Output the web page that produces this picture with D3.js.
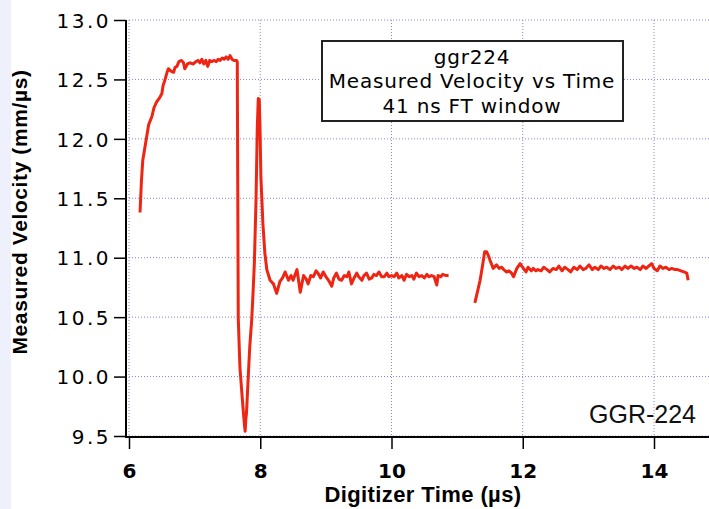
<!DOCTYPE html>
<html><head><meta charset="utf-8">
<script src="https://cdn.jsdelivr.net/npm/d3@7"></script>
<style>
html,body{margin:0;padding:0;background:#fff;}
svg{display:block;}
</style></head>
<body>
<svg id="chart" width="709" height="509"></svg>
<script>
// ---- data ----
const timeA = [6.168,6.19,6.21,6.27,6.30,6.35,6.38,6.42,6.46,6.50,6.52,6.55,6.58,6.60,6.64,6.68,6.70,6.73,6.76,6.80,6.83,6.85,6.89,6.93,6.98,7.02,7.05,7.08,7.11,7.14,7.17,7.20,7.23,7.26,7.30,7.33,7.36,7.39,7.42,7.45,7.48,7.51,7.54,7.57,7.60,7.64,7.65,
 7.665,7.69,7.72,7.74,7.76,7.77,7.78,7.79,7.82,7.84,7.87,7.89,7.91,7.935,7.955,7.97,7.985,7.996,8.01,8.04,8.07,8.10,8.15,8.20,8.25,8.30,8.34,8.38,8.43,8.47,8.50,8.56,8.61,8.66,8.70,8.73,8.77,8.81,8.85,8.88,8.92,8.96,9.00,9.04,9.09,9.12,9.16,9.20,9.24,9.28,9.32,9.35,9.39,9.43,9.47,9.50,9.55,9.58,9.62,9.66,9.70,9.73,9.77,9.81,9.85,9.89,9.93,9.96,10.00,10.04,10.08,10.11,10.16,10.19,10.23,10.27,10.31,10.34,10.38,10.42,10.46,10.50,10.54,10.57,10.61,10.65,10.69,10.71,10.75,10.78,10.83,10.87];
const velA = [11.38,11.65,11.82,12.02,12.12,12.19,12.26,12.31,12.34,12.38,12.45,12.50,12.56,12.59,12.57,12.56,12.60,12.61,12.65,12.66,12.64,12.59,12.63,12.64,12.63,12.65,12.66,12.64,12.67,12.63,12.66,12.61,12.66,12.65,12.66,12.65,12.67,12.66,12.68,12.67,12.69,12.67,12.70,12.67,12.66,12.66,12.65,
 10.49,10.08,9.86,9.72,9.59,9.54,9.64,9.69,10.03,10.25,10.48,10.70,10.95,11.47,12.10,12.34,12.33,12.10,11.68,11.29,11.04,10.90,10.81,10.78,10.70,10.80,10.83,10.88,10.81,10.85,10.81,10.90,10.71,10.85,10.82,10.78,10.85,10.84,10.89,10.87,10.83,10.88,10.84,10.81,10.76,10.83,10.87,10.82,10.81,10.85,10.84,10.88,10.78,10.83,10.87,10.84,10.81,10.85,10.87,10.82,10.83,10.86,10.85,10.88,10.84,10.84,10.87,10.84,10.85,10.84,10.87,10.83,10.85,10.81,10.86,10.84,10.85,10.82,10.87,10.84,10.85,10.83,10.86,10.84,10.85,10.84,10.77,10.85,10.84,10.86,10.85,10.85];
const timeB = [11.27,11.30,11.35,11.38,11.42,11.45,11.475,11.50,11.55,11.60,11.64,11.68,11.71,11.755,11.79,11.83,11.86,11.91,11.96,12.01,12.05,12.08,12.13,12.16,12.20,12.23,12.28,12.32,12.37,12.41,12.46,12.51,12.55,12.60,12.64,12.69,12.73,12.78,12.83,12.87,12.92,12.96,13.01,13.06,13.10,13.15,13.19,13.24,13.28,13.33,13.38,13.42,13.47,13.51,13.56,13.60,13.65,13.70,13.74,13.79,13.83,13.88,13.92,13.965,14.00,14.05,14.09,14.14,14.18,14.23,14.27,14.32,14.36,14.41,14.455,14.50,14.52];
const velB = [10.62,10.69,10.81,10.91,11.05,11.05,11.02,10.98,10.91,10.94,10.91,10.92,10.90,10.88,10.89,10.87,10.84,10.91,10.95,10.91,10.88,10.92,10.89,10.91,10.89,10.90,10.89,10.92,10.90,10.88,10.91,10.90,10.93,10.89,10.92,10.90,10.88,10.92,10.90,10.93,10.90,10.91,10.94,10.90,10.92,10.90,10.93,10.91,10.92,10.90,10.93,10.91,10.92,10.90,10.93,10.91,10.93,10.91,10.92,10.90,10.93,10.91,10.93,10.95,10.91,10.89,10.93,10.91,10.92,10.90,10.91,10.90,10.90,10.89,10.88,10.87,10.81];
const xTicks = [6, 8, 10, 12, 14];
const yTicks = [9.5, 10.0, 10.5, 11.0, 11.5, 12.0, 12.5, 13.0];
const legendLines = ["ggr224", "Measured Velocity vs Time", "41 ns FT window"];
const xTitle = "Digitizer Time (\u00b5s)";
const yTitle = "Measured Velocity (mm/\u00b5s)";
const tagText = "GGR-224";

// ---- drawing ----
const svg = d3.select("#chart");
const W = 709, H = 509;
const x = d3.scaleLinear().domain([6, 14]).range([129, 654]);
const y = d3.scaleLinear().domain([9.5, 13]).range([436, 20]);
const xMaxPx = W;

// left tinted strip
svg.append("rect").attr("x", 0).attr("y", 0).attr("width", 11).attr("height", H).attr("fill", "#eef1fb");

const grid = svg.append("g").attr("stroke", "#8a82d4").attr("stroke-width", 1).attr("stroke-dasharray", "1,2");
xTicks.forEach(t => {
  grid.append("line").attr("x1", x(t)).attr("x2", x(t)).attr("y1", 20).attr("y2", 436);
});
yTicks.forEach(v => {
  grid.append("line").attr("x1", 129).attr("x2", xMaxPx).attr("y1", y(v)).attr("y2", y(v));
});

// axes
const yAxis = d3.axisLeft(y).tickValues(yTicks).tickSize(12).tickPadding(6).tickFormat(d3.format(".1f"));
const gy = svg.append("g").attr("transform", "translate(126,0)").call(yAxis);
gy.select(".domain").attr("d", `M0,${y(13)}V437`).attr("stroke", "#000").attr("stroke-width", 2);
gy.selectAll(".tick line").attr("stroke", "#000").attr("stroke-width", 1.5);
gy.selectAll(".tick text").attr("font-family", "DejaVu Sans").attr("font-size", 20)
  .attr("letter-spacing", "2.5px").attr("fill", "#000").attr("dy", "0.36em").attr("x", -15);

const xAxis = d3.axisBottom(x).tickValues(xTicks).tickSize(12).tickPadding(10).tickFormat(d3.format("d"));
const gx = svg.append("g").attr("transform", "translate(0,437)").call(xAxis);
gx.select(".domain").attr("d", `M125,0H${xMaxPx}`).attr("stroke", "#000").attr("stroke-width", 2);
gx.selectAll(".tick line").attr("stroke", "#000").attr("stroke-width", 1.5);
gx.selectAll(".tick text").attr("font-family", "DejaVu Sans").attr("font-weight", "bold").attr("font-size", 20)
  .attr("fill", "#000").attr("dy", "0.95em");

// data lines
const line = d3.line().x(d => x(d[0])).y(d => y(d[1]));
const segA = timeA.map((t, i) => [t, velA[i]]);
const segB = timeB.map((t, i) => [t, velB[i]]);
[segA, segB].forEach(s => {
  svg.append("path").datum(s).attr("d", line).attr("fill", "none")
    .attr("stroke", "#ee2512").attr("stroke-width", 3).attr("stroke-linejoin", "round");
});

// legend box
const lg = svg.append("g");
lg.append("rect").attr("x", 322).attr("y", 41).attr("width", 301).attr("height", 80)
  .attr("fill", "#fff").attr("stroke", "#222").attr("stroke-width", 2);
const baselines = [64, 88, 113];
legendLines.forEach((s, i) => {
  lg.append("text").attr("x", 472).attr("y", baselines[i]).attr("text-anchor", "middle")
    .attr("font-family", "DejaVu Sans").attr("font-size", 20).attr("letter-spacing", "0.8px")
    .attr("fill", "#000").text(s);
});

// tag
svg.append("text").attr("x", 696).attr("y", 423).attr("text-anchor", "end")
  .attr("font-family", "Liberation Sans").attr("font-size", 25).attr("fill", "#111").text(tagText);

// axis titles
svg.append("text").attr("x", 423).attr("y", 502).attr("text-anchor", "middle")
  .attr("font-family", "Liberation Sans").attr("font-weight", "bold").attr("font-size", 22)
  .attr("letter-spacing", "0.4px").attr("fill", "#000").text(xTitle);
svg.append("text").attr("transform", "translate(27,212) rotate(-90)").attr("text-anchor", "middle")
  .attr("font-family", "Liberation Sans").attr("font-weight", "bold").attr("font-size", 21)
  .attr("letter-spacing", "0.6px").attr("fill", "#000").text(yTitle);
</script>
</body></html>
